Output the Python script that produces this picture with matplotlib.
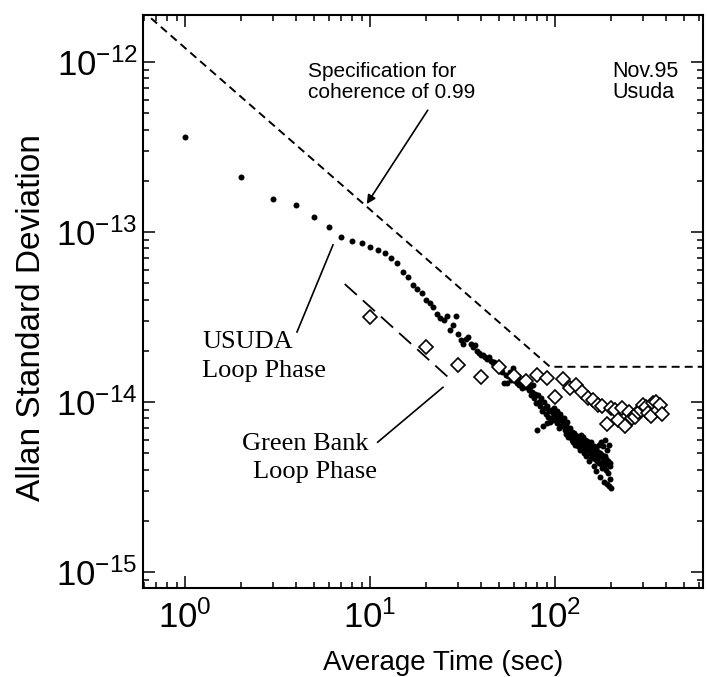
import numpy as np
import matplotlib.pyplot as plt
from matplotlib.ticker import LogLocator, NullFormatter

plt.rcParams['font.family'] = ['Liberation Sans', 'DejaVu Sans']
plt.rcParams['mathtext.fontset'] = 'custom'
plt.rcParams['mathtext.rm'] = 'Liberation Sans'
plt.rcParams['mathtext.it'] = 'Liberation Sans'

# USUDA loop phase, one point per second of averaging time (units of 1e-14)
usuda_tau = np.arange(1, 201)
usuda_sigma = np.array([
    36.2, 21.1, 15.6, 14.4, 12.3, 10.7, 9.35, 8.85, 8.6, 8.2,
    7.8, 7.5, 7.0, 6.6, 5.8, 5.4, 4.9, 4.6, 4.4, 4.0,
    3.8, 3.6, 3.3, 3.1, 3.05, 3.2, 2.65, 2.85, 3.2, 2.5,
    2.3, 2.2, 2.35, 2.4, 2.2, 2.1, 2.15, 2.0, 1.95, 1.9,
    1.9, 1.85, 1.8, 1.85, 1.75, 1.7, 1.72, 1.65, 1.6, 1.58,
    1.55, 1.5, 1.29, 1.45, 1.3, 1.42, 1.5, 1.35, 1.58, 1.38,
    1.35, 1.3, 1.42, 1.25, 1.33, 1.2, 1.28, 1.38, 1.22, 1.26,
    1.3, 1.18, 1.22, 1.1, 1.15, 1.25, 1.05, 1.12, 0.98, 0.68,
    1.1, 1.0, 0.95, 1.05, 0.88, 0.72, 1.0, 0.92, 0.85, 0.75,
    0.95, 0.82, 0.88, 0.76, 0.9, 0.8, 0.86, 0.78, 0.92, 0.84,
    0.8, 0.88, 0.75, 0.82, 0.7, 0.85, 0.78, 0.72, 0.8, 0.76,
    0.74, 0.8, 0.68, 0.72, 0.65, 0.76, 0.7, 0.62, 0.69, 0.66,
    0.7, 0.64, 0.6, 0.67, 0.58, 0.66, 0.62, 0.56, 0.64, 0.6,
    0.63, 0.58, 0.55, 0.62, 0.57, 0.6, 0.52, 0.64, 0.56, 0.59,
    0.55, 0.62, 0.5, 0.58, 0.53, 0.6, 0.48, 0.56, 0.59, 0.54,
    0.52, 0.56, 0.45, 0.54, 0.5, 0.58, 0.47, 0.53, 0.49, 0.52,
    0.48, 0.55, 0.42, 0.5, 0.46, 0.53, 0.39, 0.49, 0.45, 0.51,
    0.47, 0.56, 0.44, 0.48, 0.36, 0.5, 0.43, 0.58, 0.49, 0.41,
    0.45, 0.55, 0.42, 0.47, 0.34, 0.6, 0.48, 0.4, 0.46, 0.33,
    0.43, 0.52, 0.38, 0.45, 0.32, 0.56, 0.42, 0.35, 0.44, 0.31,
]) * 1e-14

# Green Bank loop phase, every 10 s (units of 1e-14)
gb_tau = np.arange(10, 390, 10)
gb_sigma = np.array([
    3.16, 2.1, 1.65, 1.40, 1.6, 1.42, 1.33, 1.44, 1.38, 1.07,
    1.37, 1.21, 1.26, 1.15, 1.06, 1.03, 0.96, 0.95, 0.74, 0.92,
    0.9, 0.78, 0.92, 0.72, 0.87, 0.8, 0.82, 0.87, 0.9, 0.96,
    0.93, 0.86, 0.83, 0.99, 1.0, 0.9, 0.96, 0.85,
]) * 1e-14

# coherence 0.99 specification (knee, then flat)
spec_tau = [0.58, 94, 700]
spec_sigma = [2.03e-12, 1.61e-14, 1.61e-14]

# straight guide through the Green Bank points
gb_fit_tau = [7.3, 27]
gb_fit_sigma = [4.94e-14, 1.37e-14]

fig = plt.figure(figsize=(7.07, 6.77), dpi=100)
ax = fig.add_axes([0.2023, 0.1315, 0.7921, 0.8464])
ax.set_xscale('log')
ax.set_yscale('log')

ax.plot(spec_tau, spec_sigma, color='k', lw=1.4, dashes=(4.1, 2.6))
ax.plot(gb_fit_tau, gb_fit_sigma, color='k', lw=1.3, dashes=(9, 4.5))
ax.plot(usuda_tau, usuda_sigma, 'o', color='k', ms=4.3, mew=0)
ax.plot(gb_tau, gb_sigma, 'D', mfc='white', mec='k', ms=7, mew=1.2)

ax.set_xlim(0.593, 631)
ax.set_ylim(8.05e-16, 1.89e-12)
ax.set_xticks([1, 10, 100])
ax.set_yticks([1e-15, 1e-14, 1e-13, 1e-12])
for axis in (ax.xaxis, ax.yaxis):
    axis.set_minor_locator(LogLocator(base=10, subs=np.arange(2, 10)))
    axis.set_minor_formatter(NullFormatter())

ax.tick_params(which='both', direction='in', top=True, right=True, width=1.1)
ax.tick_params(which='major', length=8.5, labelsize=25, pad=9)
ax.tick_params(axis='y', which='major', pad=4)
ax.tick_params(which='minor', length=4.5)
for sp in ax.spines.values():
    sp.set_linewidth(1.5)

# annotations
ax.text(4.62, 8.16e-13, 'Specification for', fontsize=15)
ax.text(4.62, 6.14e-13, 'coherence of 0.99', fontsize=15)
ax.text(203, 8.16e-13, 'Nov.95', fontsize=15.5)
ax.text(203, 6.14e-13, 'Usuda', fontsize=15.5)
ax.annotate('', xy=(9.6, 1.46e-13), xytext=(20.5, 5.2e-13),
            arrowprops=dict(arrowstyle='-|>', color='k', lw=1.2,
                            mutation_scale=13, shrinkA=0, shrinkB=0))

serif = ['Liberation Serif', 'DejaVu Serif']
ax.text(1.236, 2.08e-14, 'USUDA', fontsize=19, family=serif)
ax.text(1.236, 1.40e-14, 'Loop Phase', fontsize=19, family=serif)
ax.plot([4.03, 6.31], [2.58e-14, 8.4e-14], color='k', lw=1.2)

ax.text(2.03, 5.22e-15, 'Green Bank', fontsize=19, family=serif)
ax.text(2.33, 3.57e-15, 'Loop Phase', fontsize=19, family=serif)
ax.plot([11.0, 24.8], [5.8e-15, 1.22e-14], color='k', lw=1.2)

fig.text(443 / 707, 1 - 670 / 677, 'Average Time (sec)', fontsize=20,
         ha='center', va='baseline')
fig.text(32 / 707, 1 - 318 / 677, 'Allan Standard Deviation', fontsize=24,
         ha='center', va='center', rotation=90)

fig.savefig('out.png', dpi=100)
